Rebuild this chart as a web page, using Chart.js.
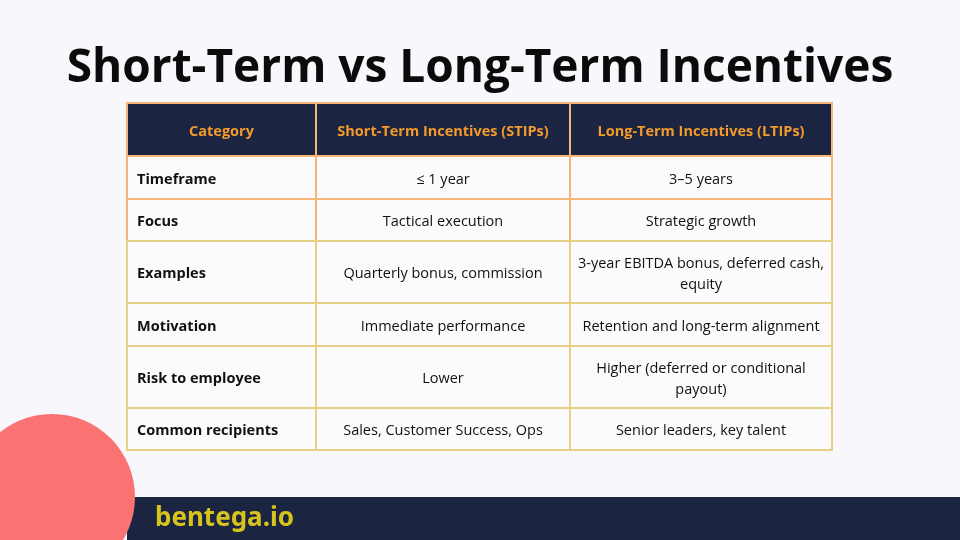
<!DOCTYPE html>
<html><head><meta charset="utf-8">
<script src="https://cdn.jsdelivr.net/npm/chart.js@4"></script>
<style>html,body{margin:0;background:#f7f7fc;}canvas{display:block}</style>
</head><body>
<div style="width:960px;height:540px"><canvas id="c"></canvas></div>
<script>
const title = "Short-Term vs Long-Term Incentives";
const headers = ["Category", "Short-Term Incentives (STIPs)", "Long-Term Incentives (LTIPs)"];
const categories = ["Timeframe", "Focus", "Examples", "Motivation", "Risk to employee", "Common recipients"];
const stips = ["≤ 1 year", "Tactical execution", "Quarterly bonus, commission", "Immediate performance", "Lower", "Sales, Customer Success, Ops"];
const ltips = ["3–5 years", "Strategic growth", "3-year EBITDA bonus, deferred cash,\nequity", "Retention and long-term alignment", "Higher (deferred or conditional\npayout)", "Senior leaders, key talent"];
const brand = "bentega.io";

// layout in page units (x/y scales run 0..960 / 0..540)
const colEdges = [127, 316, 570, 832];
const rowEdges = [103, 156, 199, 241, 303, 346, 408, 450];

const tablePlugin = {
  id: "table",
  afterDraw(chart) {
    const ctx = chart.ctx, X = chart.scales.x, Y = chart.scales.y;
    const px = v => X.getPixelForValue(v), py = v => Y.getPixelForValue(v);
    ctx.save();
    // decorations
    ctx.fillStyle = "#1b2440";
    ctx.fillRect(px(127), py(497), px(960) - px(127), py(540) - py(497));
    ctx.fillStyle = "#fa7272";
    ctx.beginPath(); ctx.arc(px(52), py(497), 83, 0, Math.PI * 2); ctx.fill();
    ctx.fillStyle = "#d6c41c";
    ctx.font = "bold 26px 'Noto Sans'";
    ctx.textAlign = "left"; ctx.textBaseline = "middle";
    ctx.fillText(brand, px(155), py(519));
    // title
    ctx.fillStyle = "#0b0b0b";
    ctx.font = "bold 46px 'Open Sans'";
    ctx.textAlign = "center";
    ctx.fillText(title, px(480), py(69));
    // cells
    const rows = [headers].concat(categories.map((c, i) => [c, stips[i], ltips[i]]));
    rows.forEach((r, ri) => {
      const y0 = py(rowEdges[ri]), y1 = py(rowEdges[ri + 1]);
      r.forEach((txt, ci) => {
        const x0 = px(colEdges[ci]), x1 = px(colEdges[ci + 1]);
        ctx.fillStyle = ri === 0 ? "#1b2440" : "#fbfbfd";
        ctx.fillRect(x0, y0, x1 - x0, y1 - y0);
        ctx.strokeStyle = ri < 3 ? "#f7b676" : "#e8cf86";
        ctx.lineWidth = 2;
        ctx.strokeRect(x0, y0, x1 - x0, y1 - y0);
        const bold = ri === 0 || ci === 0;
        ctx.font = (bold ? "bold " : "") + "14.5px 'Open Sans'";
        ctx.fillStyle = ri === 0 ? "#f39a2b" : "#111";
        const lines = txt.split("\n");
        const lh = 21, cy = (y0 + y1) / 2 + 2 - (lines.length - 1) * lh / 2;
        ctx.textAlign = (ci === 0 && ri > 0) ? "left" : "center";
        const tx = ctx.textAlign === "left" ? x0 + 10 : (x0 + x1) / 2;
        lines.forEach((l, li) => ctx.fillText(l, tx, cy + li * lh));
      });
    });
    ctx.restore();
  }
};

new Chart(document.getElementById("c"), {
  type: "scatter",
  data: { datasets: [{ data: [] }] },
  options: {
    responsive: true, maintainAspectRatio: false, animation: false,
    layout: { padding: 0 },
    plugins: { legend: { display: false }, tooltip: { enabled: false } },
    scales: {
      x: { type: "linear", min: 0, max: 960, display: false },
      y: { type: "linear", min: 0, max: 540, reverse: true, display: false }
    }
  },
  plugins: [tablePlugin]
});
</script>
</body></html>
